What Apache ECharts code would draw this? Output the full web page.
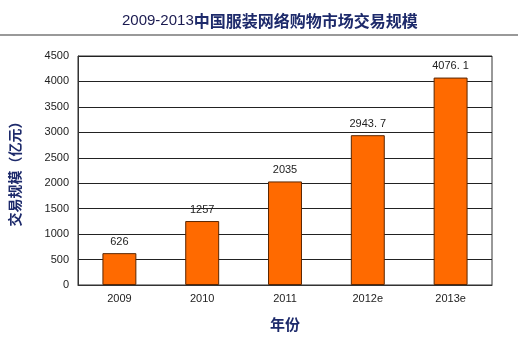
<!DOCTYPE html>
<html>
<head>
<meta charset="utf-8">
<script src="https://cdn.jsdelivr.net/npm/echarts@6/dist/echarts.min.js"></script>
<style>
  html, body { margin: 0; padding: 0; background: #fff; }
  #chart { width: 518px; height: 337px; }
</style>
</head>
<body>
<div id="chart"></div>
<script>
// Apparel online-shopping transaction scale, 2009-2013 (e = estimate)
const years = ['2009', '2010', '2011', '2012e', '2013e'];
const scale = [626, 1257, 2035, 2943.7, 4076.1];
const yTicks = { min: 0, max: 4500, interval: 500 };

const navy = '#1d2a6b';
const chart = echarts.init(document.getElementById('chart'));

chart.setOption({
  animation: false,
  backgroundColor: '#fff',
  title: {
    left: 117,
    top: 8,
    text: '{a|2009-2013}{b|中国服装网络购物市场交易规模}',
    textStyle: {
      fontWeight: 'normal',
      rich: {
        a: { fontFamily: 'Liberation Sans', fontSize: 15, fontWeight: 'normal', color: '#1a1a50' },
        b: { fontFamily: 'Noto Sans CJK SC', fontSize: 16, fontWeight: 'bold', color: navy }
      }
    }
  },
  graphic: [{
    type: 'line',
    shape: { x1: 0, y1: 35, x2: 518, y2: 35 },
    style: { stroke: '#777', lineWidth: 1.5 }
  }],
  grid: {
    left: 73, right: 26, top: 56, bottom: 45,
    show: true, borderColor: '#333', borderWidth: 1
  },
  xAxis: {
    type: 'category',
    data: years,
    name: '年份',
    nameLocation: 'middle',
    nameGap: 32,
    nameTextStyle: { fontFamily: 'Noto Sans CJK SC', fontSize: 15, fontWeight: 'bold', color: navy },
    axisLine: { lineStyle: { color: '#333' } },
    axisTick: { inside: true, length: 4, lineStyle: { color: '#333' } },
    axisLabel: { fontFamily: 'Liberation Sans', fontSize: 11, color: '#222', margin: 8 }
  },
  yAxis: {
    type: 'value',
    min: yTicks.min, max: yTicks.max, interval: yTicks.interval,
    name: '交易规模（亿元）',
    nameLocation: 'middle',
    nameGap: 56,
    nameRotate: 90,
    nameTextStyle: { fontFamily: 'Noto Sans CJK SC', fontSize: 14, fontWeight: 'bold', color: navy },
    axisLine: { show: true, lineStyle: { color: '#333' } },
    axisTick: { show: false },
    axisLabel: {
      fontFamily: 'Liberation Sans', fontSize: 11, color: '#222', margin: 9,
      formatter: v => String(v)
    },
    splitLine: { lineStyle: { color: '#222', width: 1 } }
  },
  series: [{
    type: 'bar',
    data: scale,
    barWidth: '41%',
    itemStyle: { color: '#ff6a00', borderColor: '#5a2600', borderWidth: 1 },
    label: {
      show: true,
      position: 'top',
      distance: 6,
      fontFamily: 'Liberation Sans',
      fontSize: 11,
      color: '#222',
      formatter: p => String(p.value).replace('.', '. ')
    }
  }]
});
</script>
</body>
</html>
